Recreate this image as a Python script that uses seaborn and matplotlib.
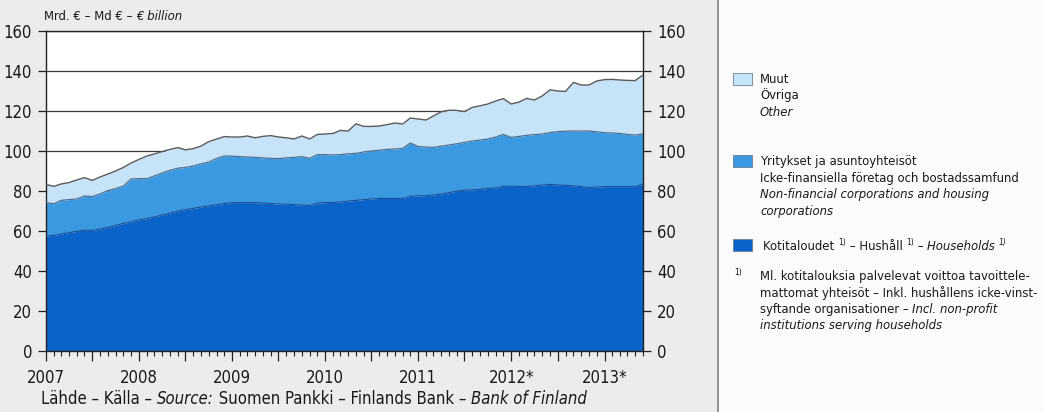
import numpy as np
import pandas as pd
import matplotlib
matplotlib.use("Agg")
import matplotlib.pyplot as plt
import matplotlib.dates as mdates
from matplotlib import font_manager as fm
import seaborn as sns

# monthly stock, EUR bn, Jan 2007 - Jun 2013
households = [57.5, 57.8, 58.5, 59.2, 59.8, 60.4, 60.3, 61.0, 61.8, 62.8, 63.8, 64.5,
              65.6, 66.2, 67.0, 68.0, 69.0, 70.0, 70.7, 71.3, 72.0, 72.6, 73.2, 73.8,
              74.2, 74.2, 74.2, 74.2, 74.0, 73.8, 73.5, 73.4, 73.2, 73.0, 72.7, 74.0,
              74.2, 74.3, 74.5, 75.0, 75.3, 75.7, 76.0, 76.3, 76.3, 76.3, 76.3, 77.4,
              77.6, 77.7, 78.0, 78.5, 79.2, 79.9, 80.4, 80.6, 80.8, 81.3, 81.5, 82.4,
              82.4, 82.3, 82.2, 82.6, 83.0, 83.3, 83.0, 82.8, 82.6, 82.2, 81.7, 82.0,
              82.2, 82.2, 82.2, 82.2, 82.2, 83.5]
corporations = [16.7, 15.8, 16.8, 16.5, 16.2, 17.1, 16.9, 17.5, 18.4, 18.4, 18.7, 21.5,
                20.6, 20.0, 20.5, 21.0, 21.3, 21.4, 21.1, 21.2, 21.6, 21.9, 23.1, 23.7,
                23.2, 23.0, 22.8, 22.6, 22.6, 22.5, 22.7, 23.2, 23.6, 24.2, 23.6, 24.2,
                24.0, 23.7, 23.7, 23.6, 23.5, 23.8, 24.0, 24.1, 24.5, 24.7, 25.0, 26.6,
                24.6, 24.3, 23.8, 23.9, 23.8, 23.7, 23.9, 24.4, 24.7, 24.7, 25.5, 25.9,
                24.4, 25.0, 25.6, 25.6, 25.5, 25.9, 26.7, 27.1, 27.4, 27.8, 28.3, 27.6,
                27.0, 26.8, 26.6, 26.1, 25.8, 25.0]
other = [9.1, 8.7, 8.2, 8.5, 9.5, 9.2, 8.1, 8.5, 8.3, 8.8, 9.3, 8.0,
         9.6, 11.3, 11.0, 10.7, 10.5, 10.3, 8.8, 8.7, 8.9, 10.2, 9.7, 9.7,
         9.6, 9.8, 10.5, 9.8, 10.7, 11.4, 10.8, 10.0, 9.2, 10.3, 9.7, 10.1,
         10.3, 10.8, 12.1, 11.4, 14.8, 12.8, 12.3, 12.1, 12.4, 13.0, 12.2, 12.5,
         13.8, 13.5, 15.7, 17.2, 17.4, 16.7, 15.4, 16.8, 17.1, 17.5, 18.0, 17.9,
         16.7, 17.2, 18.5, 17.3, 19.0, 21.4, 20.3, 19.9, 24.3, 23.0, 23.0, 25.4,
         26.5, 26.8, 26.7, 27.0, 27.2, 29.5]
year_labels = ["2007", "2008", "2009", "2010", "2011", "2012*", "2013*"]

dates = pd.date_range("2007-01-01", periods=len(households), freq="MS")
df = pd.DataFrame({"date": dates, "hh": households, "corp": corporations, "other": other})
df["lvl1"] = df["hh"]
df["lvl2"] = df["hh"] + df["corp"]
df["lvl3"] = df["lvl2"] + df["other"]

c_hh, c_corp, c_other = "#0a63c8", "#3b99e1", "#c6e3f7"

sns.set_style("ticks")

# pick a narrow face if one is around, else Liberation Sans
fam, stretch = "Liberation Sans", "normal"
for name, st in [("Liberation Sans Narrow", None), ("DejaVu Sans", "condensed"),
                 ("Roboto Condensed", None), ("Open Sans Condensed", None)]:
    hit = [f for f in fm.fontManager.ttflist
           if f.name == name and (st is None or str(f.stretch) == st)]
    if hit:
        fam, stretch = name, (st or "normal")
        break
plt.rcParams["font.family"] = [fam, "DejaVu Sans"]
plt.rcParams["font.stretch"] = stretch

fig = plt.figure(figsize=(10.44, 4.12), dpi=100)
fig.patch.set_facecolor("#fbfbfb")
W, H = 1044, 412
fig.add_artist(plt.Rectangle((0, 0), 718 / W, 1, transform=fig.transFigure,
                             facecolor="#ececec", edgecolor="none", zorder=-10))
fig.add_artist(plt.Line2D([718 / W, 718 / W], [0, 1], transform=fig.transFigure,
                          color="#8a8a8a", lw=1.3))

ax = fig.add_axes([46 / W, (H - 351) / H, (643 - 46) / W, 320 / H])
ax.set_facecolor("white")

ax.stackplot(df["date"], df["hh"], df["corp"], df["other"],
             colors=[c_hh, c_corp, c_other], linewidth=0, zorder=2)
sns.lineplot(data=df, x="date", y="lvl1", color="#1d4f96", lw=0.8, ax=ax, zorder=3)
sns.lineplot(data=df, x="date", y="lvl2", color="#4e6f8e", lw=0.9, ax=ax, zorder=3)
sns.lineplot(data=df, x="date", y="lvl3", color="#5a5a5a", lw=1.0, ax=ax, zorder=3)

ax.set_xlim(dates[0], dates[-1])
ax.set_ylim(0, 160)
ax.set_yticks(range(0, 161, 20))
ax.grid(axis="y", color="#3a3a3a", lw=0.9)
ax.set_axisbelow(True)

ax.xaxis.set_major_locator(mdates.MonthLocator(bymonth=[1, 7]))
ax.xaxis.set_minor_locator(mdates.MonthLocator())
ax.xaxis.set_major_formatter(plt.FuncFormatter(
    lambda v, pos: year_labels[mdates.num2date(v).year - 2007]
    if mdates.num2date(v).month == 1 else ""))
ax.set_xlabel("")
ax.set_ylabel("")

for s in ax.spines.values():
    s.set_visible(True)
    s.set_color("#222")
    s.set_linewidth(1.0)
ax.tick_params(axis="y", left=True, right=True, labelleft=True, labelright=True,
               length=6, width=0.9, color="#222", labelcolor="#1a1a1a",
               labelsize=12, pad=4)
ax.tick_params(axis="x", which="major", length=7, width=0.9, color="#222",
               labelcolor="#1a1a1a", labelsize=12, pad=6)
ax.tick_params(axis="x", which="minor", length=3.5, width=0.8, color="#222")

# text pieces drawn one after the other along a line
renderer = fig.canvas.get_renderer()


def chain(x, y, parts, size=10, color="#1a1a1a"):
    for s, style, dy, sz in parts:
        t = fig.text(x / W, 1 - (y + dy) / H, s, fontsize=sz or size, style=style,
                     color=color, va="baseline", ha="left")
        x = t.get_window_extent(renderer).x1
    return x


chain(44, 20, [("Mrd. € – Md € – ", "normal", 0, None), ("€ billion", "italic", 0, None)],
      size=9.4)
chain(41, 404, [("Lähde – Källa – ", "normal", 0, None), ("Source:", "italic", 0, None),
                (" Suomen Pankki – Finlands Bank – ", "normal", 0, None),
                ("Bank of Finland", "italic", 0, None)], size=12)

# legend on the right
lx, tx, lh = 733, 760, 16.5

# size legend text so that the widest line fits into the panel
probe = fig.text(0, 0, "mattomat yhteisöt – Inkl. hushållens icke-vinst-", fontsize=10.5)
pw = probe.get_window_extent(renderer).width
probe.remove()
fs = min(10.5, 10.5 * (1040 - tx) / pw)
sup = fs * 0.65

for y0, col in [(73, c_other), (155, c_corp), (239, c_hh)]:
    fig.add_artist(plt.Rectangle((lx / W, 1 - (y0 + 12) / H), 19 / W, 12 / H,
                                 transform=fig.transFigure, facecolor=col,
                                 edgecolor="#6a7f95", lw=0.6))

for i, (s, st) in enumerate([("Muut", "normal"), ("Övriga", "normal"), ("Other", "italic")]):
    chain(tx, 83 + i * lh, [(s, st, 0, None)], size=fs)
for i, (s, st) in enumerate([("Yritykset ja asuntoyhteisöt", "normal"),
                             ("Icke-finansiella företag och bostadssamfund", "normal"),
                             ("Non-financial corporations and housing", "italic"),
                             ("corporations", "italic")]):
    chain(tx, 165 + i * lh, [(s, st, 0, None)], size=fs)
chain(tx + 3, 250, [("Kotitaloudet ", "normal", 0, None), ("1)", "normal", -5, sup),
                    (" – Hushåll ", "normal", 0, None), ("1)", "normal", -5, sup),
                    (" – ", "normal", 0, None), ("Households ", "italic", 0, None),
                    ("1)", "italic", -5, sup)], size=fs)
chain(lx + 1, 280, [("1)", "normal", -5, sup)], size=fs)
chain(tx, 280, [("Ml. kotitalouksia palvelevat voittoa tavoittele-", "normal", 0, None)], size=fs)
chain(tx, 280 + lh, [("mattomat yhteisöt – Inkl. hushållens icke-vinst-", "normal", 0, None)], size=fs)
chain(tx, 280 + 2 * lh, [("syftande organisationer – ", "normal", 0, None),
                         ("Incl. non-profit", "italic", 0, None)], size=fs)
chain(tx, 280 + 3 * lh, [("institutions serving households", "italic", 0, None)], size=fs)

fig.savefig("out.png", dpi=100, facecolor=fig.get_facecolor())
